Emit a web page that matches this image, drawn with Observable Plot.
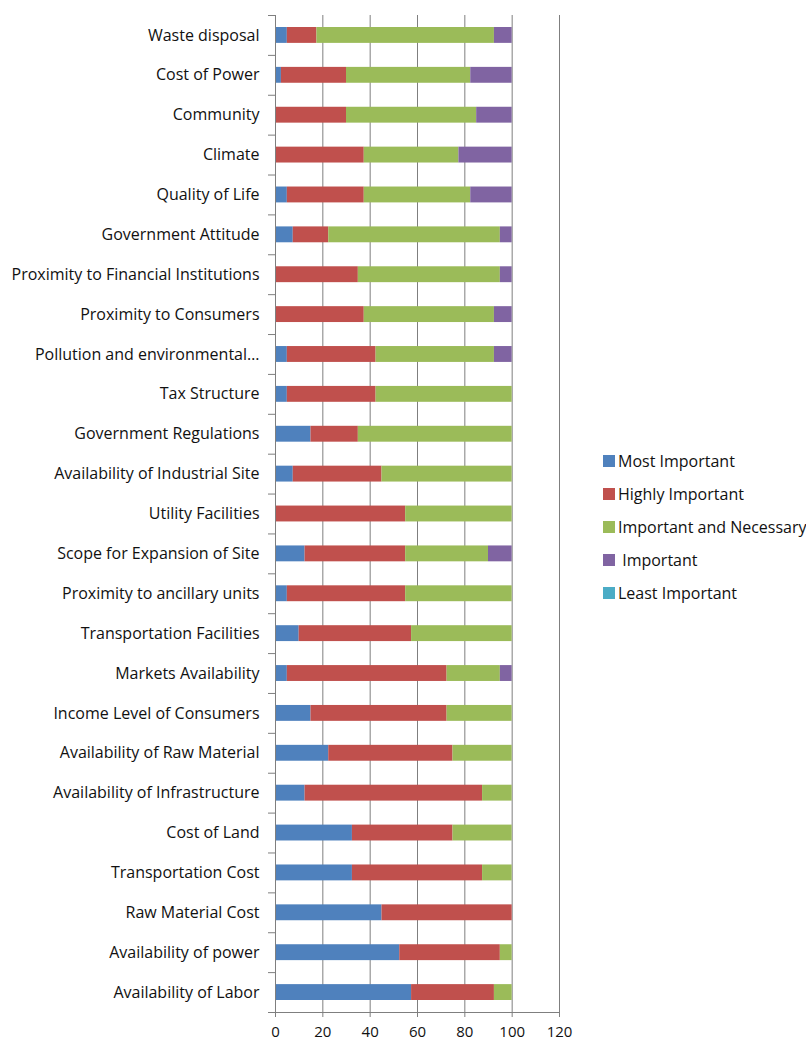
<!DOCTYPE html>
<html>
<head>
<meta charset="utf-8">
<script src="https://cdn.jsdelivr.net/npm/d3@7"></script>
<script src="https://cdn.jsdelivr.net/npm/@observablehq/plot@0.6"></script>
<style>
  body { margin: 0; background: #fff; font-family: "Open Sans", sans-serif; }
  #wrap { position: relative; width: 806px; height: 1043px; overflow: hidden; }
  #legend { position: absolute; left: 603px; top: 444px; }
  .item { display: flex; align-items: center; height: 33px; font-size: 16px; color: #111; white-space: pre; }
  .sw { width: 12px; height: 12px; margin-right: 3px; flex: none; }
</style>
</head>
<body>
<div id="wrap"><div id="legend"></div></div>
<script>
// Location factors, listed from the bottom row upward
const factors = [
  "Availability of Labor",
  "Availability of power",
  "Raw Material Cost",
  "Transportation Cost",
  "Cost of Land",
  "Availability of Infrastructure",
  "Availability of Raw Material",
  "Income Level of Consumers",
  "Markets Availability",
  "Transportation Facilities",
  "Proximity to ancillary units",
  "Scope for Expansion of Site",
  "Utility Facilities",
  "Availability of Industrial Site",
  "Government Regulations",
  "Tax Structure",
  "Pollution and environmental\u2026",
  "Proximity to Consumers",
  "Proximity to Financial Institutions",
  "Government Attitude",
  "Quality of Life",
  "Climate",
  "Community",
  "Cost of Power",
  "Waste disposal"
];

// Share of respondents (%) per rating, same order as factors
const mostImportant      = [57.5, 52.5, 45, 32.5, 32.5, 12.5, 22.5, 15, 5, 10, 5, 12.5, 0, 7.5, 15, 5, 5, 0, 0, 7.5, 5, 0, 0, 2.5, 5];
const highlyImportant    = [35, 42.5, 55, 55, 42.5, 75, 52.5, 57.5, 67.5, 47.5, 50, 42.5, 55, 37.5, 20, 37.5, 37.5, 37.5, 35, 15, 32.5, 37.5, 30, 27.5, 12.5];
const importantNecessary = [7.5, 5, 0, 12.5, 25, 12.5, 25, 27.5, 22.5, 42.5, 45, 35, 45, 55, 65, 57.5, 50, 55, 60, 72.5, 45, 40, 55, 52.5, 75];
const important          = [0, 0, 0, 0, 0, 0, 0, 0, 5, 0, 0, 10, 0, 0, 0, 0, 7.5, 7.5, 5, 5, 17.5, 22.5, 15, 17.5, 7.5];
const leastImportant     = [0, 0, 0, 0, 0, 0, 0, 0, 0, 0, 0, 0, 0, 0, 0, 0, 0, 0, 0, 0, 0, 0, 0, 0, 0];

const levels = ["Most Important", "Highly Important", "Important and Necessary", "Important", "Least Important"];
const legendText = ["Most Important", "Highly Important", "Important and Necessary", " Important", "Least Important"];
const levelColors = ["#4f81bd", "#c0504d", "#9bbb59", "#8064a2", "#4bacc6"];
const xTicks = [0, 20, 40, 60, 80, 100, 120];

const series = [mostImportant, highlyImportant, importantNecessary, important, leastImportant];
const rows = factors.flatMap((factor, i) =>
  levels.map((level, k) => ({i, factor, level, value: series[k][i]}))
);

const gridColor = "#7f7f7f";

const chart = Plot.plot({
  width: 806,
  height: 1043,
  marginLeft: 275,
  marginRight: 247,
  marginTop: 15,
  marginBottom: 31,
  style: {fontFamily: "'Open Sans', sans-serif", fontSize: "16px", color: "#111", background: "transparent"},
  x: {domain: [0, 120], label: null},
  y: {domain: [0, factors.length], label: null},
  color: {domain: levels, range: levelColors},
  marks: [
    Plot.ruleX(xTicks.slice(1), {stroke: gridColor, strokeWidth: 1}),
    Plot.rectX(rows, Plot.stackX({
      x: "value",
      y1: "i",
      y2: (d) => d.i + 1,
      fill: "level",
      insetTop: 12,
      insetBottom: 12
    })),
    Plot.ruleX([0], {stroke: gridColor}),
    Plot.ruleY([0], {stroke: gridColor}),
    Plot.axisX({ticks: xTicks, tickSize: 5, tickPadding: 9, stroke: gridColor, fontSize: 15}),
    Plot.axisY({ticks: d3.range(factors.length + 1), tickSize: 7, stroke: gridColor, tickFormat: () => ""}),
    Plot.axisY({
      ticks: d3.range(factors.length).map((i) => i + 0.5),
      tickSize: 0,
      tickPadding: 16,
      tickFormat: (v) => factors[Math.floor(v)]
    })
  ]
});

const wrap = document.getElementById("wrap");
wrap.insertBefore(chart, wrap.firstChild);

const legend = d3.select("#legend");
levels.forEach((level, k) => {
  const item = legend.append("div").attr("class", "item");
  item.append("div").attr("class", "sw").style("background", levelColors[k]);
  item.append("span").text(legendText[k]);
});
</script>
</body>
</html>
